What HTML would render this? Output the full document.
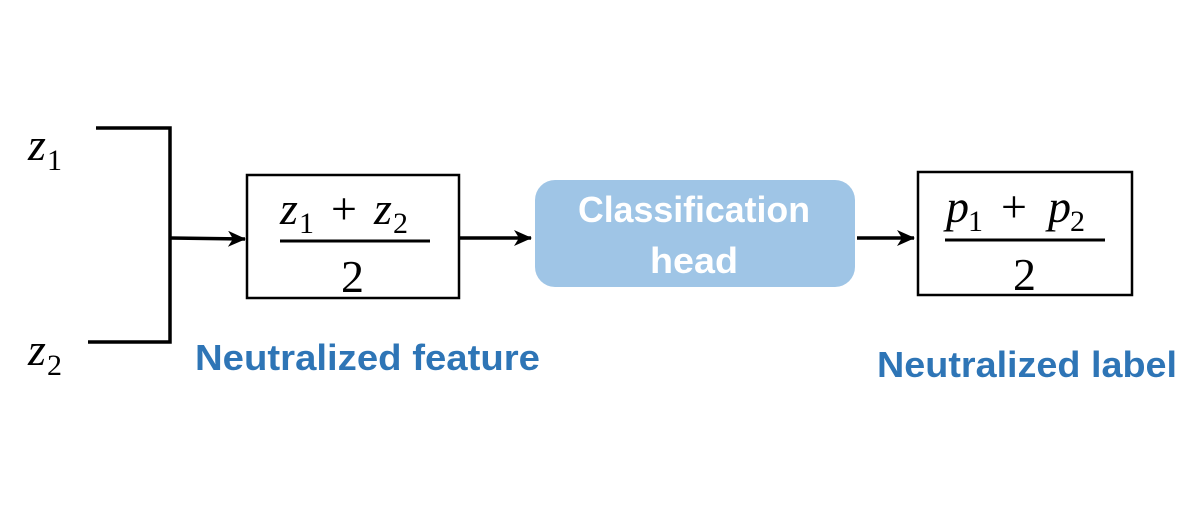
<!DOCTYPE html>
<html><head><meta charset="utf-8"><style>
html,body{margin:0;padding:0;background:#fff;width:1190px;height:510px;overflow:hidden}
.m{font-family:"Liberation Serif",serif;font-style:italic;fill:#000}
.s{font-family:"Liberation Serif",serif;fill:#000}
.b{font-family:"Liberation Sans",sans-serif;font-weight:bold}
</style></head><body>
<svg width="1190" height="510" viewBox="0 0 1190 510">
<defs><marker id="ah" markerWidth="18" markerHeight="16" refX="17" refY="8" orient="auto" markerUnits="userSpaceOnUse"><path d="M0,0 L18,8 L0,16 L5,8 Z" fill="#000"/></marker></defs>
<g><text class="m" x="28" y="160" font-size="46">z</text><text class="s" x="47" y="170" font-size="30">1</text></g>
<g><text class="m" x="28" y="365" font-size="46">z</text><text class="s" x="47" y="375" font-size="30">2</text></g>
<polyline points="96,128 170,128 170,342 88,342" fill="none" stroke="#000" stroke-width="3.5"/>
<line x1="170" y1="238" x2="245" y2="239" stroke="#000" stroke-width="3.5" marker-end="url(#ah)"/>
<g>
<rect x="247" y="175" width="212" height="123" fill="#fff" stroke="#000" stroke-width="2.5"/>
<text class="m" x="280" y="224" font-size="46">z</text><text class="s" x="299" y="233" font-size="30">1</text>
<text class="s" x="331" y="224" font-size="46">+</text>
<text class="m" x="374" y="224" font-size="46">z</text><text class="s" x="393" y="233" font-size="30">2</text>
<line x1="280" y1="241" x2="430" y2="241" stroke="#000" stroke-width="3"/>
<text class="s" x="341" y="292" font-size="46">2</text>
</g>
<line x1="459" y1="238" x2="531" y2="238" stroke="#000" stroke-width="3.5" marker-end="url(#ah)"/>
<g>
<rect x="535" y="180" width="320" height="107" rx="20" fill="#9fc5e6"/>
<text class="b" x="694" y="222" font-size="36" fill="#fff" text-anchor="middle" textLength="232" lengthAdjust="spacingAndGlyphs">Classification</text>
<text class="b" x="694" y="273" font-size="36" fill="#fff" text-anchor="middle" textLength="88" lengthAdjust="spacingAndGlyphs">head</text>
</g>
<line x1="857" y1="238" x2="914" y2="238" stroke="#000" stroke-width="3.5" marker-end="url(#ah)"/>
<g>
<rect x="918" y="172" width="214" height="123" fill="#fff" stroke="#000" stroke-width="2.5"/>
<text class="m" x="946" y="222" font-size="46">p</text><text class="s" x="968" y="231" font-size="30">1</text>
<text class="s" x="1001" y="222" font-size="46">+</text>
<text class="m" x="1048" y="222" font-size="46">p</text><text class="s" x="1070" y="231" font-size="30">2</text>
<line x1="945" y1="240" x2="1105" y2="240" stroke="#000" stroke-width="3"/>
<text class="s" x="1013" y="290" font-size="46">2</text>
</g>
<text class="b" x="195" y="370" font-size="36" fill="#2e75b6" textLength="345" lengthAdjust="spacingAndGlyphs">Neutralized feature</text>
<text class="b" x="877" y="377" font-size="36" fill="#2e75b6" textLength="300" lengthAdjust="spacingAndGlyphs">Neutralized label</text>
</svg>
</body></html>
